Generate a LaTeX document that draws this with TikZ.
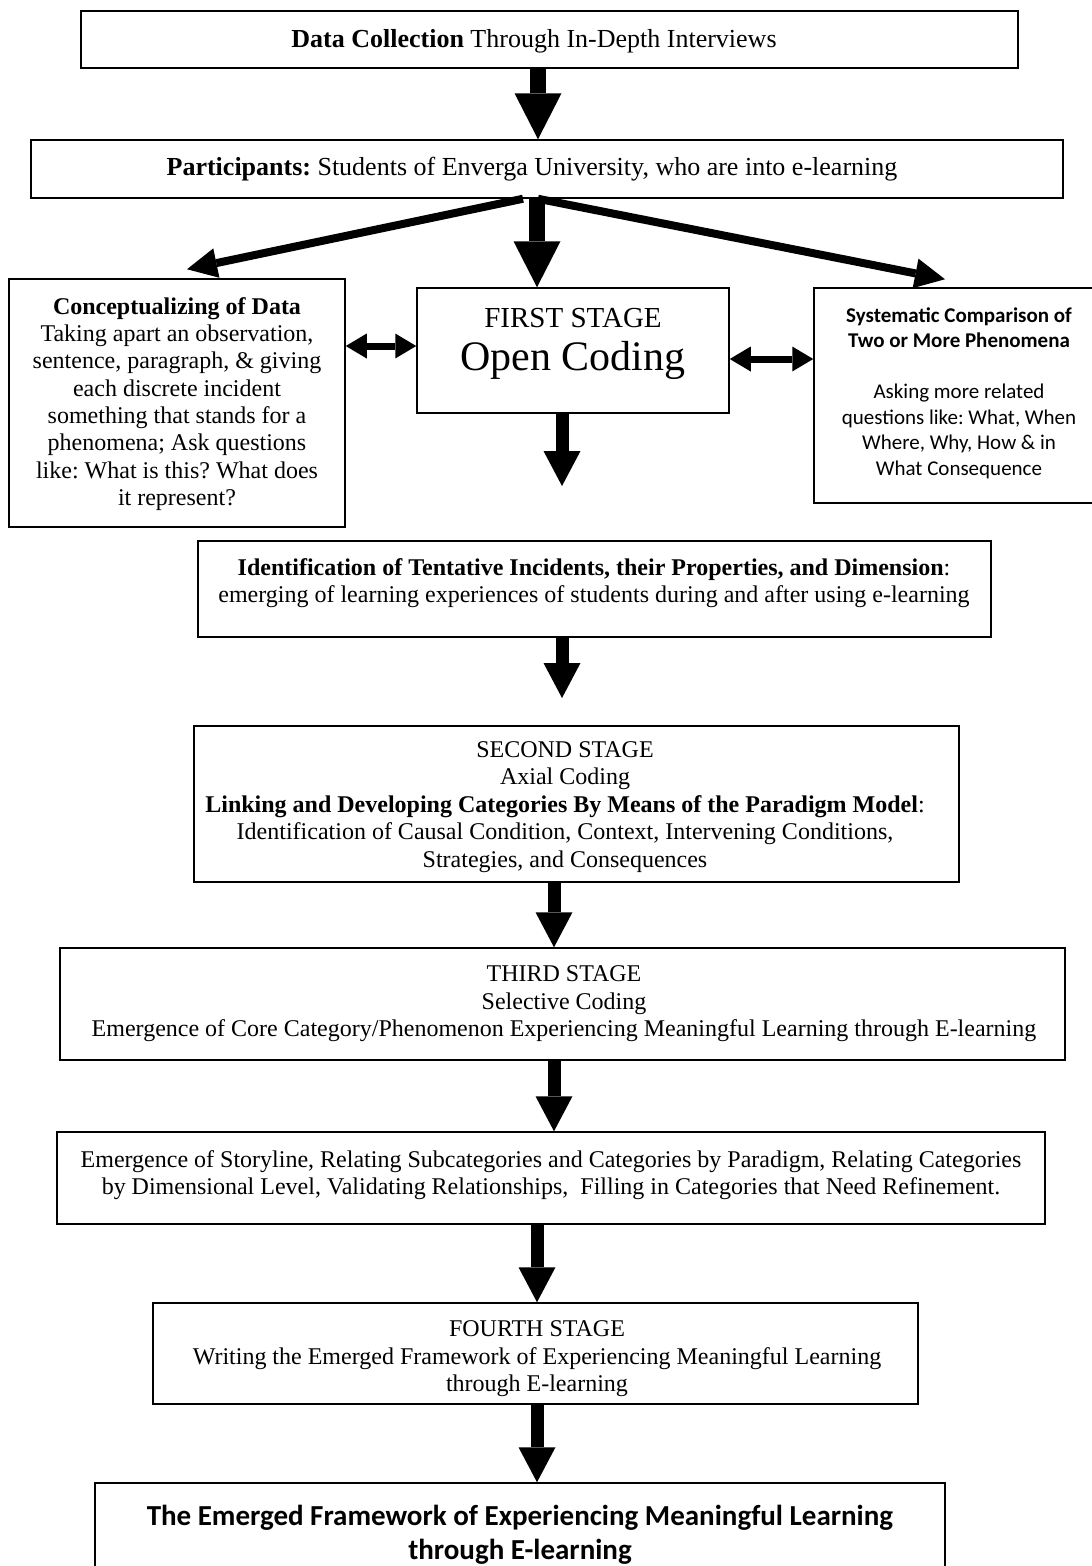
\documentclass[tikz,border=0pt]{standalone}
\usepackage{fontspec}
\setmainfont{Liberation Serif}
\newfontfamily\calfont{Carlito}
\usetikzlibrary{arrows.meta}
\frenchspacing
\begin{document}
\begin{tikzpicture}[x=1pt,y=-1pt,
  box/.style={draw, line width=1.5pt, rectangle, inner sep=0pt},
  txt/.style={align=center, inner sep=0pt, font=\fontsize{24}{27.5}\selectfont},
  bigtxt/.style={align=center, inner sep=0pt, font=\fontsize{26}{30}\selectfont},
  bigarrow/.style={line width=16pt, -{Triangle[width=47pt,length=46pt,line width=0pt]}},
  midarrow/.style={line width=13pt, -{Triangle[width=37pt,length=35pt,line width=0pt]}},
  slantarrow/.style={line width=8pt, -{Triangle[width=30pt,length=30pt,line width=0pt]}},
  dblarrow/.style={line width=7pt, {Triangle[width=25pt,length=21pt,line width=0pt]}-{Triangle[width=25pt,length=21pt,line width=0pt]}}
]
\useasboundingbox (0,0) rectangle (1092,1566);
\fill[white] (0,0) rectangle (1092,1566);

% boxes
\node[box, minimum width=937pt, minimum height=57pt] (box1) at (549.5,39.5) {};
\node[box, minimum width=1032pt, minimum height=58pt] (box2) at (547,169) {};
\node[box, minimum width=336pt, minimum height=248pt] (concept) at (177,403) {};
\node[box, minimum width=312pt, minimum height=125pt] (first) at (573,350.5) {};
\node[box, minimum width=290pt, minimum height=215pt] (sys) at (959,395.5) {};
\node[box, minimum width=793pt, minimum height=96pt] (ident) at (594.5,589) {};
\node[box, minimum width=765pt, minimum height=156pt] (second) at (576.5,804) {};
\node[box, minimum width=1005pt, minimum height=112pt] (third) at (562.5,1004) {};
\node[box, minimum width=988pt, minimum height=92pt] (story) at (551,1178) {};
\node[box, minimum width=765pt, minimum height=101pt] (fourth) at (535.5,1353.5) {};
\node[box, minimum width=850pt, minimum height=140pt] (final) at (520,1553) {};

% texts
\node[bigtxt] (t1) at (534,41) {\textbf{Data Collection} Through In-Depth Interviews};
\node[bigtxt] (t2) at (532,169) {\textbf{Participants:} Students of Enverga University, who are into e-learning};
\node[txt, font=\fontsize{24}{27.3}\selectfont] (tc) at (177,404) {\textbf{Conceptualizing of Data}\\Taking apart an observation,\\sentence, paragraph, \& giving\\each discrete incident\\something that stands for a\\phenomena; Ask questions\\like: What is this? What does\\it represent?};
\node[anchor=base, inner sep=0pt, font=\fontsize{29}{33}\selectfont] (tf1) at (573,327) {FIRST STAGE};
\node[anchor=base, inner sep=0pt, font=\fontsize{42}{46}\selectfont] (tf2) at (573,370) {Open Coding};
\node[align=center, inner sep=0pt, font=\calfont\fontsize{21}{25.5}\selectfont] (ts) at (959,393) {\textbf{Systematic Comparison of}\\\textbf{Two or More Phenomena}\\[25.5pt]Asking more related\\questions like: What, When\\Where, Why, How \& in\\What Consequence};
\node[txt] (tid) at (594,583) {\textbf{Identification of Tentative Incidents, their Properties, and Dimension}:\\emerging of learning experiences of students during and after using e-learning};
\node[txt] (tsec) at (565,807) {SECOND STAGE\\Axial Coding\\\textbf{Linking and Developing Categories By Means of the Paradigm Model}:\\Identification of Causal Condition, Context, Intervening Conditions,\\Strategies, and Consequences};
\node[txt] (tthird) at (564,1004) {THIRD STAGE\\Selective Coding\\Emergence of Core Category/Phenomenon Experiencing Meaningful Learning through E-learning};
\node[txt] (tstory) at (551,1175) {Emergence of Storyline, Relating Subcategories and Categories by Paradigm, Relating Categories\\by Dimensional Level, Validating Relationships,\ \ Filling in Categories that Need Refinement.};
\node[txt] (tfourth) at (537,1359) {FOURTH STAGE\\Writing the Emerged Framework of Experiencing Meaningful Learning\\through E-learning};
\node[align=center, inner sep=0pt, font=\calfont\bfseries\fontsize{29}{34}\selectfont] (tfinal) at (520,1535) {The Emerged Framework of Experiencing Meaningful Learning\\through E-learning};

% free ends
\coordinate (fe1) at (562,486);
\coordinate (fe2) at (562,698);

% connectors
\draw[bigarrow] ([xshift=-11.5pt]box1.south) -- ([xshift=-9pt]box2.north);
\draw[bigarrow] ([xshift=-10pt]box2.south) -- ([xshift=-36pt]first.north);
\draw[slantarrow] ([xshift=-24pt]box2.south) -- ([xshift=10pt,yshift=9pt]concept.north);
\draw[slantarrow] ([xshift=-9pt]box2.south) -- ([xshift=-14pt,yshift=8pt]sys.north);
\draw[dblarrow] ([yshift=57pt]concept.east) -- ([yshift=4.5pt]first.west);
\draw[dblarrow] ([yshift=-8.5pt]first.east) -- ([yshift=36.5pt]sys.west);
\draw[midarrow] ([xshift=-11pt]first.south) -- (fe1);
\draw[midarrow] ([xshift=-32.5pt]ident.south) -- (fe2);
\draw[midarrow] ([xshift=-22.5pt]second.south) -- ([xshift=-8.5pt]third.north);
\draw[midarrow] ([xshift=-8.5pt]third.south) -- ([xshift=3pt]story.north);
\draw[midarrow] ([xshift=-14pt]story.south) -- ([xshift=1.5pt]fourth.north);
\draw[midarrow] ([xshift=1.5pt]fourth.south) -- ([xshift=17pt]final.north);
\end{tikzpicture}
\end{document}
